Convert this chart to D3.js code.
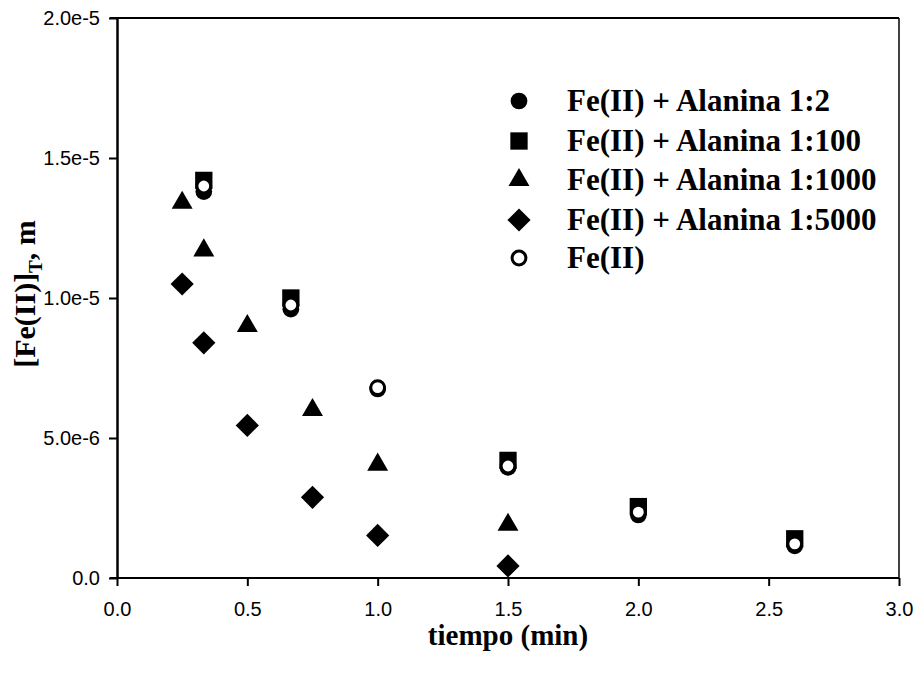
<!DOCTYPE html>
<html>
<head>
<meta charset="utf-8">
<script src="https://cdn.jsdelivr.net/npm/d3@7"></script>
<style>
body { margin: 0; background: #fff; }
svg { display: block; }
</style>
</head>
<body>
<svg id="chart" width="918" height="677"></svg>
<script>
// ---- Data ----
const seriesNames = ["Fe(II) + Alanina 1:2", "Fe(II) + Alanina 1:100", "Fe(II) + Alanina 1:1000", "Fe(II) + Alanina 1:5000", "Fe(II)"];
const seriesShapes = ["circle", "square", "triangle", "diamond", "opencircle"];

const x12 = [0.333, 0.667, 1.0, 1.5, 2.0, 2.6];
const y12 = [1.38e-5, 9.6e-6, 6.75e-6, 3.95e-6, 2.25e-6, 1.15e-6];

const x100 = [0.333, 0.667, 1.5, 2.0, 2.6];
const y100 = [1.42e-5, 1.0e-5, 4.2e-6, 2.55e-6, 1.4e-6];

const x1000 = [0.25, 0.333, 0.5, 0.75, 1.0, 1.5];
const y1000 = [1.34e-5, 1.17e-5, 9.0e-6, 6.0e-6, 4.05e-6, 1.9e-6];

const x5000 = [0.25, 0.333, 0.5, 0.75, 1.0, 1.5];
const y5000 = [1.05e-5, 8.4e-6, 5.45e-6, 2.88e-6, 1.52e-6, 4.3e-7];

const xFe = [0.333, 0.667, 1.0, 1.5, 2.0, 2.6];
const yFe = [1.40e-5, 9.75e-6, 6.8e-6, 4.0e-6, 2.35e-6, 1.22e-6];

const xTicks = [0, 0.5, 1.0, 1.5, 2.0, 2.5, 3.0];
const xTickLabels = ["0.0", "0.5", "1.0", "1.5", "2.0", "2.5", "3.0"];
const yTicks = [0, 5e-6, 1e-5, 1.5e-5, 2e-5];
const yTickLabels = ["0.0", "5.0e-6", "1.0e-5", "1.5e-5", "2.0e-5"];

const seriesX = [x12, x100, x1000, x5000, xFe];
const seriesY = [y12, y100, y1000, y5000, yFe];

// ---- Layout ----
const svg = d3.select("#chart");
const mLeft = 117, mRight = 899, mTop = 18, mBottom = 578;
const serif = "Liberation Serif, Times New Roman, serif";
const sans = "Liberation Sans, Arial, sans-serif";

const x = d3.scaleLinear().domain([0, 3]).range([mLeft, mRight]);
const y = d3.scaleLinear().domain([0, 2e-5]).range([mBottom, mTop]);

const squareDiamond = {
  draw(ctx, size) {
    const r = Math.sqrt(size / 2);
    ctx.moveTo(0, -r); ctx.lineTo(r, 0); ctx.lineTo(0, r); ctx.lineTo(-r, 0); ctx.closePath();
  }
};

const symbolFor = {
  circle: d3.symbol().type(d3.symbolCircle).size(220),
  square: d3.symbol().type(d3.symbolSquare).size(300),
  triangle: d3.symbol().type(d3.symbolTriangle).size(190),
  diamond: d3.symbol().type(squareDiamond).size(270),
  opencircle: d3.symbol().type(d3.symbolCircle).size(150)
};

function drawMarker(g, shape, cx, cy) {
  const p = g.append("path")
    .attr("d", symbolFor[shape]())
    .attr("transform", `translate(${cx},${cy})`);
  if (shape === "opencircle") {
    p.attr("fill", "#fff").attr("stroke", "#000").attr("stroke-width", 3);
  } else {
    p.attr("fill", "#000");
  }
}

// ---- Frame ----
svg.append("line").attr("x1", 110).attr("x2", mRight).attr("y1", mTop).attr("y2", mTop)
  .attr("stroke", "#000").attr("stroke-width", 2);
svg.append("line").attr("x1", mRight).attr("x2", mRight).attr("y1", mTop).attr("y2", mBottom)
  .attr("stroke", "#000").attr("stroke-width", 1.5);

// ---- Axes ----
const xAxis = d3.axisBottom(x).tickValues(xTicks)
  .tickFormat((d, i) => xTickLabels[i]).tickSize(8).tickSizeOuter(0).tickPadding(16);
const gx = svg.append("g").attr("transform", `translate(0,${mBottom})`).call(xAxis);
gx.select(".domain").attr("d", `M110,0H${mRight}`).attr("stroke-width", 2);
gx.selectAll(".tick line").attr("stroke-width", 2);
gx.selectAll("text").attr("font-family", sans).attr("font-size", 20).attr("fill", "#000");

const yAxis = d3.axisLeft(y).tickValues(yTicks)
  .tickFormat((d, i) => yTickLabels[i]).tickSize(8).tickSizeOuter(0).tickPadding(9);
const gy = svg.append("g").attr("transform", `translate(${mLeft},0)`).call(yAxis);
gy.select(".domain").attr("stroke-width", 2.5);
gy.selectAll(".tick line").attr("stroke-width", 2);
gy.selectAll("text").attr("font-family", sans).attr("font-size", 20).attr("fill", "#000");

// ---- Points ----
const pts = svg.append("g");
seriesShapes.forEach((shape, si) => {
  seriesX[si].forEach((xv, i) => {
    drawMarker(pts, shape, x(xv), y(seriesY[si][i]));
  });
});

// ---- Legend ----
const legend = svg.append("g");
const legY = [101, 141, 180, 220, 258];
seriesNames.forEach((name, i) => {
  drawMarker(legend, seriesShapes[i], 519, legY[i]);
  legend.append("text")
    .attr("x", 567).attr("y", legY[i] + 10)
    .attr("font-family", serif)
    .attr("font-weight", "bold").attr("font-size", 31)
    .text(name);
});

// ---- Axis titles ----
svg.append("text")
  .attr("x", 508).attr("y", 645)
  .attr("text-anchor", "middle")
  .attr("font-family", serif)
  .attr("font-weight", "bold").attr("font-size", 29)
  .text("tiempo (min)");

const yt = svg.append("text")
  .attr("transform", `translate(35,294) rotate(-90)`)
  .attr("text-anchor", "middle")
  .attr("font-family", serif)
  .attr("font-weight", "bold").attr("font-size", 30);
yt.append("tspan").text("[Fe(II)]");
yt.append("tspan").attr("font-size", 19).attr("dy", 7).text("T");
yt.append("tspan").attr("dy", -7).text(", m");
</script>
</body>
</html>
